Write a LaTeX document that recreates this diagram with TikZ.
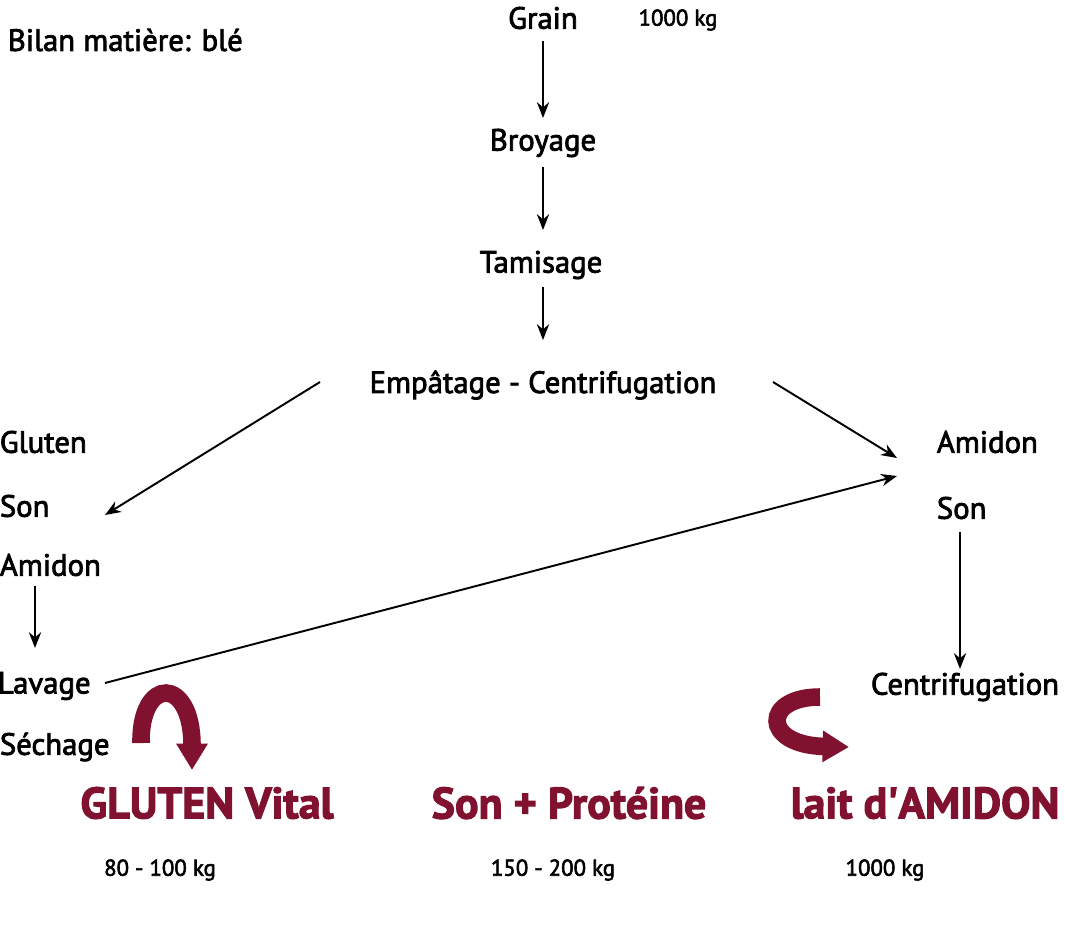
\documentclass[tikz,border=0pt]{standalone}
\usepackage{fontspec}
\setmainfont{PT Sans}[FakeBold=2.5]
\usetikzlibrary{arrows.meta}
\definecolor{bordeaux}{RGB}{128,18,48}

\begin{document}
\begin{tikzpicture}
  [x=0.02cm, y=-0.02cm,
   etape/.style={font=\fontsize{17.5}{20}\selectfont, inner sep=2pt},
   masse/.style={font=\fontsize{13}{15}\selectfont, inner sep=1pt},
   produit/.style={font=\fontsize{25}{29}\selectfont\bfseries, text=bordeaux},
   fleche/.style={line width=1.1pt, draw=black, -{Stealth[length=9pt,width=7pt]}},
   grosse/.style={line width=10pt, draw=bordeaux, -{Triangle[length=15pt,width=17pt]}}]

  \useasboundingbox (0,0) rectangle (1065,926);

  % Titre
  \node[etape, anchor=west] (titre) at (4,40) {Bilan matière: blé};

  % Chaîne principale
  \node[etape] (grain) at (543,18) {Grain};
  \node[masse] (m0) at (678,20) {1000 kg};
  \node[etape] (broy) at (543,143) {Broyage};
  \node[etape] (tamis) at (541,265) {Tamisage};
  \node[etape] (empat) at (543,385) {Empâtage - Centrifugation};

  % Colonne gauche
  \node[etape, anchor=west] (glut) at (-4,442) {Gluten};
  \node[etape, anchor=west] (sonG) at (-4,506) {Son};
  \node[etape, anchor=west] (amiG) at (-4,565) {Amidon};
  \node[etape, anchor=west] (lav) at (-6,686) {Lavage};
  \node[etape, anchor=west] (sech) at (-4,747) {Séchage};

  % Colonne droite
  \node[etape, anchor=west] (amiD) at (933,442) {Amidon};
  \node[etape, anchor=west] (sonD) at (933,508) {Son};
  \node[etape] (centri) at (965,687) {Centrifugation};

  % Extrémités libres des flèches
  \coordinate (dG) at (320,382);
  \coordinate (fG) at (105,515);
  \coordinate (dD) at (773,382);
  \coordinate (fD) at (897,458);
  \coordinate (dL) at (105,683);
  \coordinate (fL) at (897,476);

  % Flèches
  \draw[fleche] (grain.south -| 543,0) ++(0,8) -- (543,118);
  \draw[fleche] (broy.south -| 543,0) ++(0,6) -- (543,230);
  \draw[fleche] (tamis.south -| 543,0) ++(0,4) -- (543,340);
  \draw[fleche] (amiG.south -| 35,0) ++(0,6) -- (35,648);
  \draw[fleche] (960,532) -- (centri.north -| 960,0);
  \draw[fleche] (dG) -- (fG);
  \draw[fleche] (dD) -- (fD);
  \draw[fleche] (dL) -- (fL);

  % Grosses flèches
  \draw[grosse] (141,743) .. controls (140,676) and (192,676) .. (192,770);
  \draw[grosse] (820,697) .. controls (762,697) and (762,745) .. (849,747);

  % Produits
  \node[produit] (pGlut) at (207,803) {GLUTEN Vital};
  \node[produit] (pSon) at (569,803) {Son + Protéine};
  \node[produit] (pLait) at (925,803) {lait d\textquotesingle AMIDON};

  % Masses
  \node[masse] (m1) at (160,870) {80 - 100 kg};
  \node[masse] (m2) at (553,870) {150 - 200 kg};
  \node[masse] (m3) at (885,870) {1000 kg};
\end{tikzpicture}
\end{document}
